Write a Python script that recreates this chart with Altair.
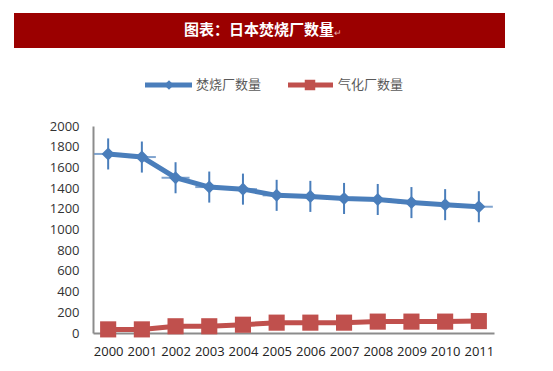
import altair as alt
import pandas as pd

years = ["2000", "2001", "2002", "2003", "2004", "2005", "2006", "2007", "2008", "2009", "2010", "2011"]
incineration = [1730, 1700, 1500, 1410, 1390, 1330, 1320, 1300, 1290, 1260, 1240, 1220]
gasification = [35, 35, 65, 65, 80, 100, 100, 100, 110, 110, 110, 115]
y_ticks = [0, 200, 400, 600, 800, 1000, 1200, 1400, 1600, 1800, 2000]
title_text = "图表：日本焚烧厂数量"
series_names = ["焚烧厂数量", "气化厂数量"]

BLUE = "#4A7EBB"
RED = "#C0504D"
FONT = "Open Sans"
CJK = "Noto Sans CJK SC"

df_b = pd.DataFrame({"year": years, "value": incineration})
df_r = pd.DataFrame({"year": years, "value": gasification})
one = pd.DataFrame({"k": [0]})

x_axis = alt.Axis(title=None, labelAngle=0, ticks=False, domainColor="#8c8c8c",
                  domainWidth=2, labelPadding=12, labelFont=FONT, labelFontSize=13,
                  labelColor="#222222", grid=False, labelOverlap=False)
y_axis = alt.Axis(title=None, values=y_ticks, ticks=False, domainColor="#8c8c8c",
                  domainWidth=2, labelPadding=14, labelFont=FONT, labelFontSize=13,
                  labelColor="#333333", grid=False, format="d", labelOverlap=False)
x_scale = alt.Scale(type="point", padding=0.45)
y_scale = alt.Scale(domain=[0, 2000], nice=False)

xs = alt.X("year:O", scale=x_scale, axis=x_axis)
ys = alt.Y("value:Q", scale=y_scale, axis=y_axis)

blue_line = alt.Chart(df_b).mark_line(color=BLUE, strokeWidth=5).encode(x=xs, y=ys)
blue_err = alt.Chart(df_b).transform_calculate(
    lo="datum.value - 150", hi="datum.value + 150"
).mark_rule(color=BLUE, strokeWidth=2).encode(
    x=xs, y=alt.Y("lo:Q", scale=y_scale, axis=y_axis), y2="hi:Q")
blue_tick = alt.Chart(df_b).mark_tick(color=BLUE, thickness=2, size=28, orient="horizontal").encode(x=xs, y=ys)
blue_pts = alt.Chart(df_b).mark_point(shape="diamond", filled=True, color=BLUE, size=170, opacity=1).encode(x=xs, y=ys)

red_line = alt.Chart(df_r).mark_line(color=RED, strokeWidth=5).encode(x=xs, y=ys)
red_pts = alt.Chart(df_r).mark_point(shape="square", filled=True, color=RED, size=260, opacity=1).encode(x=xs, y=ys)

# banner title
banner = alt.Chart(one).mark_rect(color="#9B0000").encode(
    x=alt.value(-79), x2=alt.value(412), y=alt.value(-113), y2=alt.value(-78))
banner_text = alt.Chart(one).mark_text(
    text=title_text, color="white", font=CJK, fontSize=15, fontWeight="bold",
    align="center", baseline="middle").encode(x=alt.value(166), y=alt.value(-96))
banner_mark = alt.Chart(one).mark_text(
    text="↵", color="#e8b0b0", fontSize=9, align="left", baseline="middle"
).encode(x=alt.value(241), y=alt.value(-93))

# legend
leg_b_line = alt.Chart(one).mark_rule(color=BLUE, strokeWidth=5).encode(
    x=alt.value(52), x2=alt.value(99), y=alt.value(-41))
leg_b_pt = alt.Chart(one).mark_point(shape="diamond", filled=True, color=BLUE, size=90, opacity=1).encode(
    x=alt.value(76), y=alt.value(-41))
leg_b_txt = alt.Chart(one).mark_text(text=series_names[0], font=CJK, fontSize=13, color="#595959",
                                     align="left", baseline="middle").encode(x=alt.value(103), y=alt.value(-41))
leg_r_line = alt.Chart(one).mark_rule(color=RED, strokeWidth=5).encode(
    x=alt.value(195), x2=alt.value(240), y=alt.value(-41))
leg_r_pt = alt.Chart(one).mark_point(shape="square", filled=True, color=RED, size=110, opacity=1).encode(
    x=alt.value(217), y=alt.value(-41))
leg_r_txt = alt.Chart(one).mark_text(text=series_names[1], font=CJK, fontSize=13, color="#595959",
                                     align="left", baseline="middle").encode(x=alt.value(245), y=alt.value(-41))

chart = alt.layer(
    blue_err, blue_tick, blue_line, blue_pts, red_line, red_pts,
    banner, banner_text, banner_mark,
    leg_b_line, leg_b_pt, leg_b_txt, leg_r_line, leg_r_pt, leg_r_txt,
).properties(
    width=401, height=207,
    autosize=alt.AutoSizeParams(type="none"),
    padding={"left": 85, "top": 118, "right": 51, "bottom": 30},
    background="white",
).configure_view(stroke=None).configure_axis(labelOverlap=False)

chart.save("out.html", embed_options={"renderer": "svg", "actions": False})
